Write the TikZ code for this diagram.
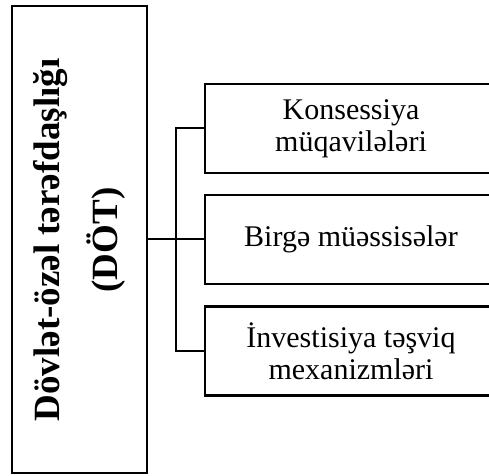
\documentclass[tikz,border=0pt]{standalone}
\usepackage{fontspec}
\setmainfont{Liberation Serif}
\newcommand\itemfont{\fontsize{15}{16}\selectfont}
\newcommand\mainfont{\fontsize{18.5}{29}\selectfont\bfseries}
\begin{document}
\begin{tikzpicture}[x=0.5pt,y=-0.5pt,
  mainbox/.style={draw,line width=1.4pt,minimum width=67.5pt,minimum height=233.5pt,inner sep=0pt},
  itembox/.style={draw,line width=1.25pt,minimum width=146pt,minimum height=44.5pt,inner sep=0pt,
    align=center,font=\itemfont},
  link/.style={line width=1pt}]
\useasboundingbox(0,0)rectangle(489,476);
\node[mainbox](dot)at(79.5,239.5){};
\node[rotate=90,align=center,font=\mainfont](dotlabel)at(79.5,240){Dövlət-özəl tərəfdaşlığı\\(DÖT)};
\node[itembox](konsessiya)at(351,128.5){Konsessiya\\müqavilələri};
\node[itembox](birge)at(351,239.5){Birgə müəssisələr};
\node[itembox](investisiya)at(351,351){İnvestisiya təşviq\\mexanizmləri};
\coordinate(split)at(176,239.5);
\draw[link](dot.east)--(birge.west);
\draw[link](konsessiya.west)-|(split)|-(investisiya.west);
\end{tikzpicture}
\end{document}
